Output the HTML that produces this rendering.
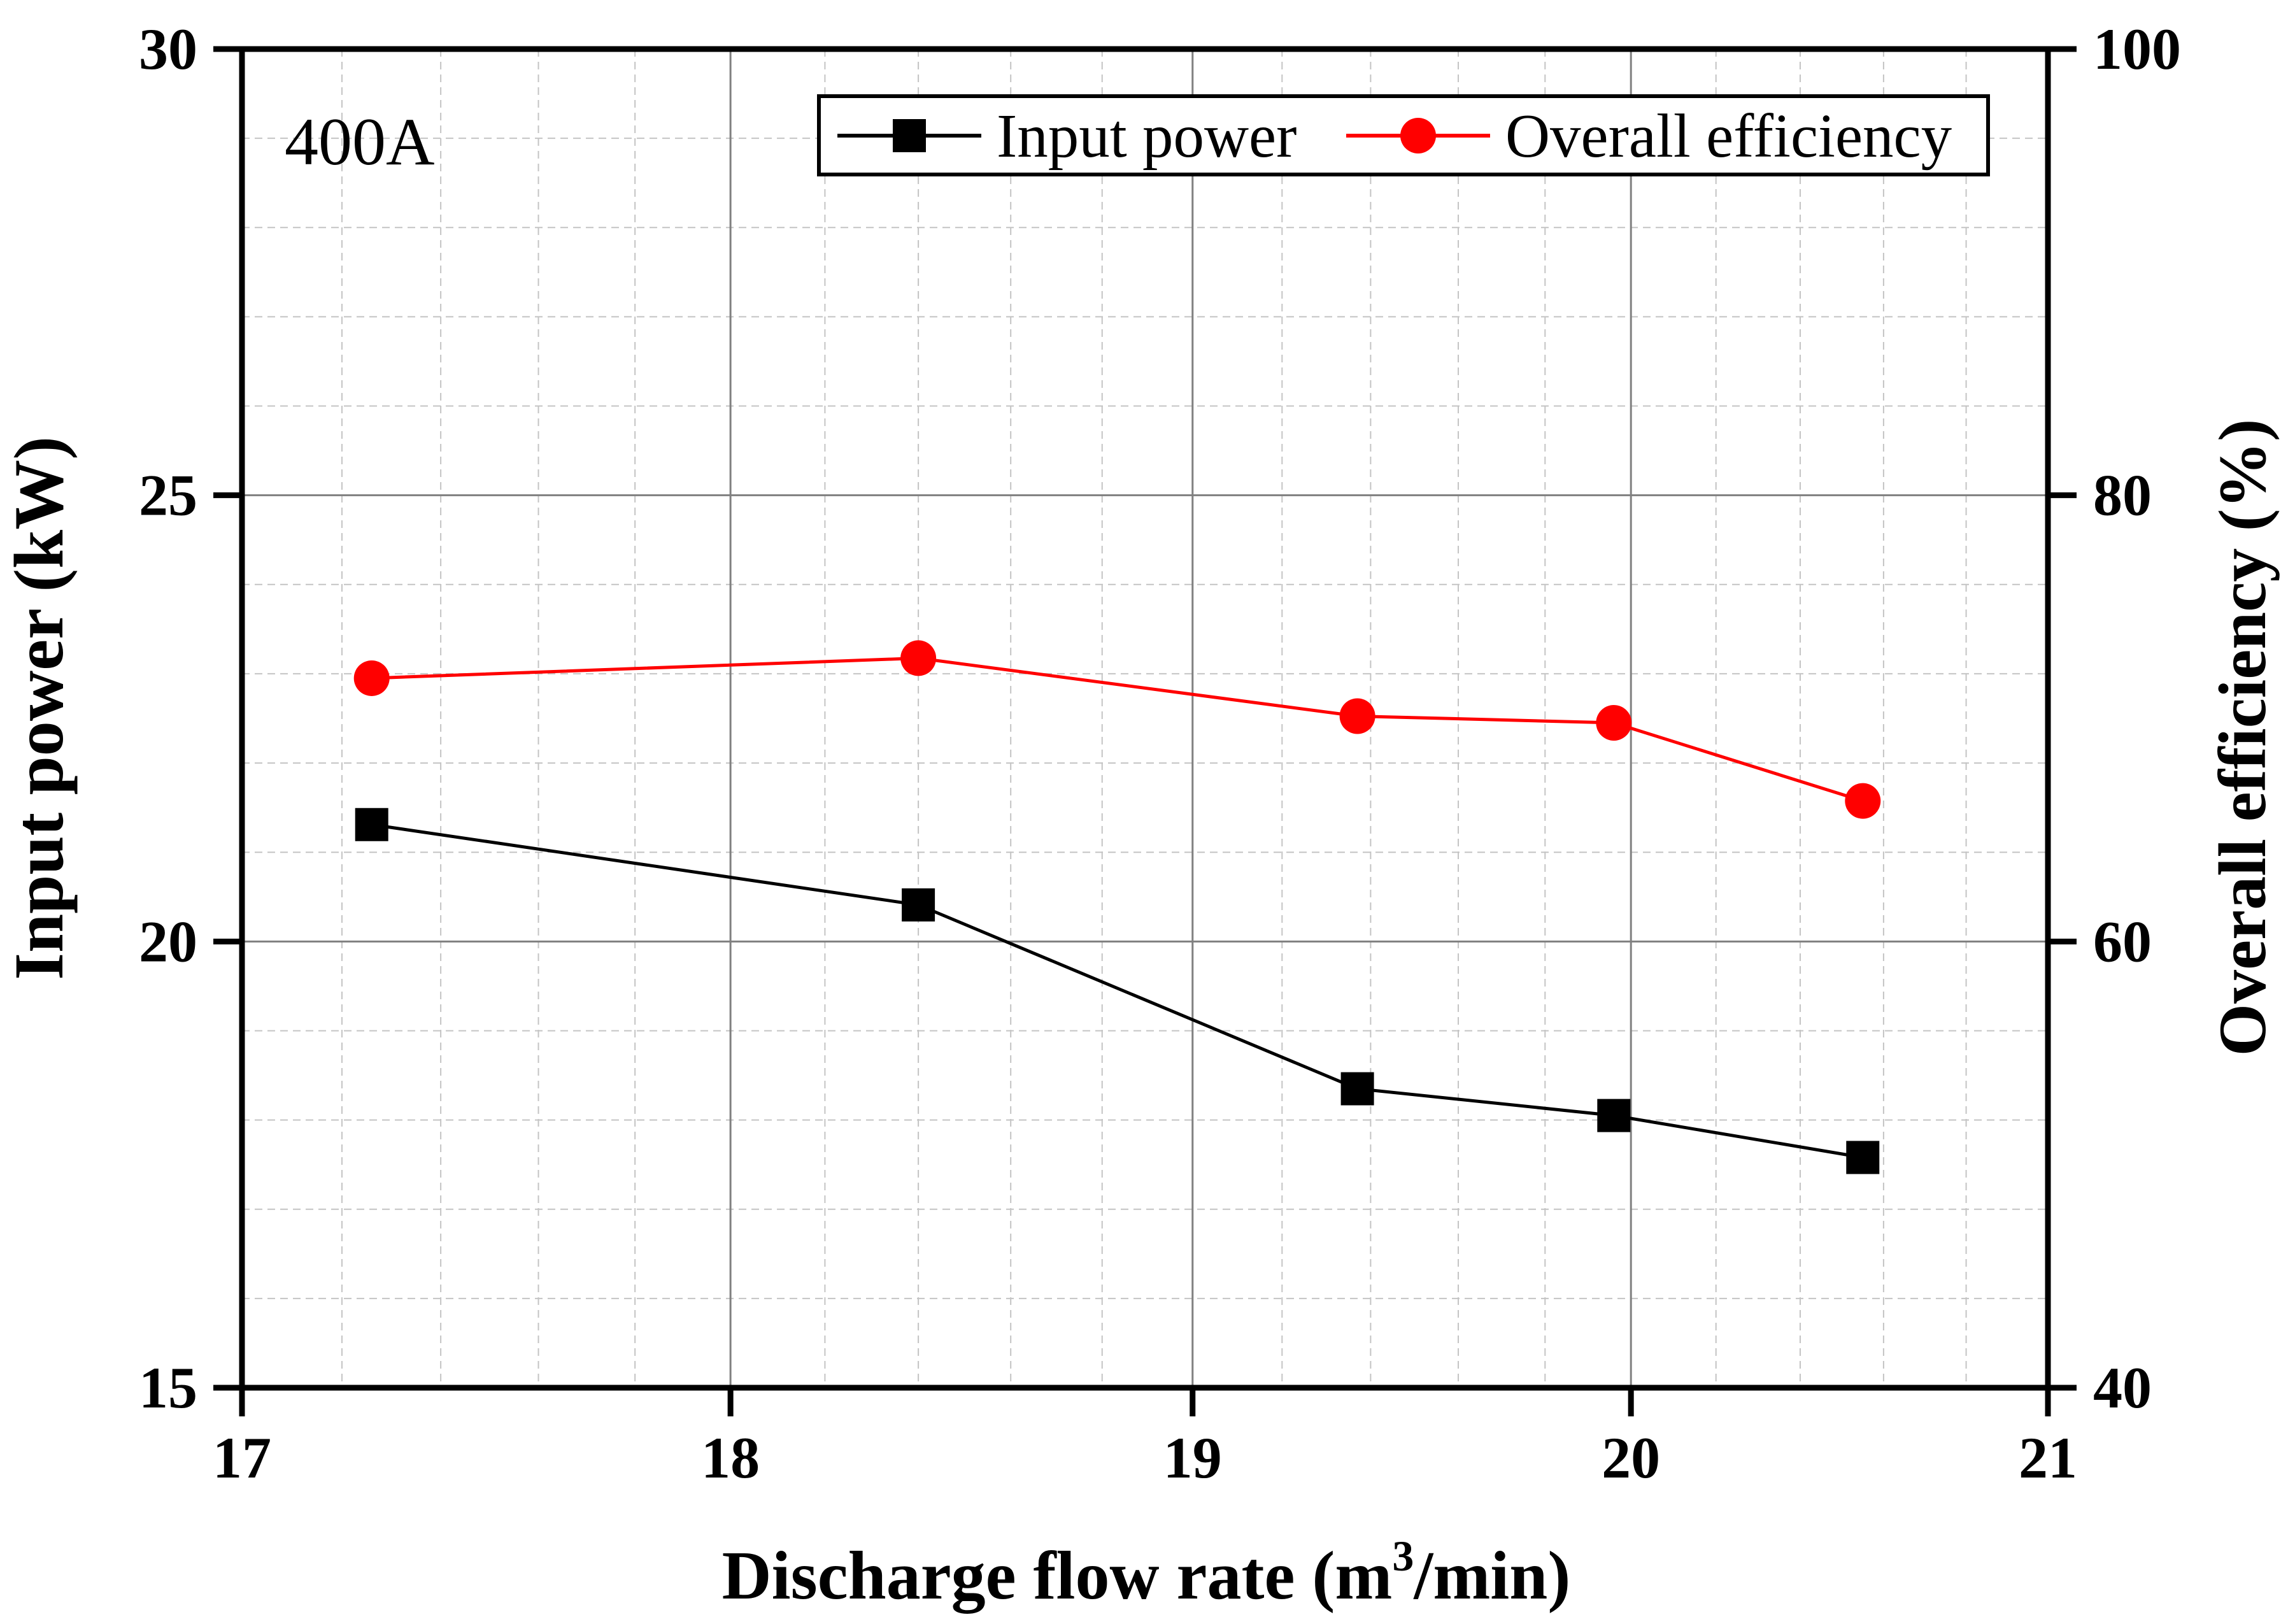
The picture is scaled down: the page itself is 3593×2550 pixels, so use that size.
<!DOCTYPE html>
<html><head><meta charset="utf-8"><style>html,body{margin:0;padding:0;background:#fff}svg{display:block}text{font-family:"Liberation Serif",serif}</style></head>
<body>
<svg id="chart" width="3593" height="2550" viewBox="0 0 3593 2550" xmlns="http://www.w3.org/2000/svg">
<g id="grid"></g>
<g id="series"></g>
<g id="axes"></g>
<text x="447" y="258" font-size="106">400A</text>
<g>
<rect x="1286" y="151" width="1836" height="123" fill="#fff" stroke="#000" stroke-width="6"/>
<line x1="1315" y1="213" x2="1541" y2="213" stroke="#000" stroke-width="6"/>
<rect x="1402" y="187" width="52" height="52" fill="#000"/>
<text x="1565" y="246" font-size="97">Input power</text>
<line x1="2114" y1="213" x2="2340" y2="213" stroke="#f00" stroke-width="6"/>
<circle cx="2227" cy="213" r="28" fill="#f00"/>
<text x="2364" y="246" font-size="97">Overall efficiency</text>
</g>
<text x="1800" y="2510" font-size="108" font-weight="bold" text-anchor="middle">Discharge flow rate (m<tspan font-size="68" dy="-44">3</tspan><tspan dy="44">/min)</tspan></text>
<text transform="translate(98,1112) rotate(-90)" font-size="110" font-weight="bold" text-anchor="middle">Input power (kW)</text>
<text transform="translate(3557,1158) rotate(-90)" font-size="106" font-weight="bold" text-anchor="middle">Overall efficiency (%)</text>
</svg>
<script>
const flowRates = [17.26, 18.40, 19.37, 19.96, 20.55];
const inputPower = [21.31, 20.41, 18.35, 18.05, 17.58];
const efficiency = [71.8, 72.7, 70.1, 69.8, 66.3];
const xTicks = [17, 18, 19, 20, 21];
const yLeftTicks = [15, 20, 25, 30];
const yRightTicks = [40, 60, 80, 100];

const L=380,R=3216,T=77,B=2179;
const NS="http://www.w3.org/2000/svg";
const xs=v=>L+(R-L)*Math.log(v/17)/Math.log(21/17);
const yl=v=>B-(B-T)*(v-15)/15;
const yr=v=>B-(B-T)*(v-40)/60;
function mk(tag,attrs,parent){const e=document.createElementNS(NS,tag);for(const k in attrs)e.setAttribute(k,attrs[k]);parent.appendChild(e);return e;}
const grid=document.getElementById('grid'),ser=document.getElementById('series'),ax=document.getElementById('axes');

for(let v=17.2;v<21-1e-6;v+=0.2){if(Math.abs(v-Math.round(v))<1e-6)continue;
 const l=mk('line',{x1:xs(v),x2:xs(v),y1:T,y2:B,stroke:'#c4c4c4','stroke-width':2,'stroke-dasharray':'12,8'},grid);
 
 }
for(let v=16;v<30;v++){if(v%5===0)continue;
 const l=mk('line',{x1:L,x2:R,y1:yl(v),y2:yl(v),stroke:'#c4c4c4','stroke-width':2,'stroke-dasharray':'12,8'},grid);
 
 }
xTicks.slice(1,-1).forEach(v=>{const l=mk('line',{x1:xs(v),x2:xs(v),y1:T,y2:B,stroke:'#808080','stroke-width':3},grid);
 
 });
yLeftTicks.slice(1,-1).forEach(v=>{const l=mk('line',{x1:L,x2:R,y1:yl(v),y2:yl(v),stroke:'#808080','stroke-width':3},grid);
 
 });

function series(vals,yf,color,name,square){
 const pts=flowRates.map((x,i)=>xs(x)+','+yf(vals[i])).join(' ');
 const pl=mk('polyline',{points:pts,fill:'none',stroke:color,'stroke-width':5},ser);
 
 
 flowRates.forEach((x,i)=>{let m;
  if(square)m=mk('rect',{x:xs(x)-26,y:yf(vals[i])-26,width:52,height:52,fill:color},ser);
  else m=mk('circle',{cx:xs(x),cy:yf(vals[i]),r:28,fill:color},ser);
  
  });
}
series(inputPower,yl,'#000','input-power',true);
series(efficiency,yr,'#f00','efficiency',false);

[[L,T,R,T],[L,B,R,B],[L,T,L,B],[R,T,R,B]].forEach(a=>{const l=mk('line',{x1:a[0],y1:a[1],x2:a[2],y2:a[3],stroke:'#000','stroke-width':9,'stroke-linecap':'square'},ax);
 
 });
xTicks.forEach(v=>{const l=mk('line',{x1:xs(v),x2:xs(v),y1:B,y2:B+45,stroke:'#000','stroke-width':9},ax);
 
 
 const t=mk('text',{x:xs(v),y:2320,'font-size':92,'font-weight':'bold','text-anchor':'middle'},ax);t.textContent=v;
 
 });
yLeftTicks.forEach(v=>{const l=mk('line',{x1:L-45,x2:L,y1:yl(v),y2:yl(v),stroke:'#000','stroke-width':9},ax);
 
 
 const t=mk('text',{x:310,y:yl(v)+31,'font-size':92,'font-weight':'bold','text-anchor':'end'},ax);t.textContent=v;
 
 });
yRightTicks.forEach(v=>{const l=mk('line',{x1:R,x2:R+45,y1:yr(v),y2:yr(v),stroke:'#000','stroke-width':9},ax);
 
 
 const t=mk('text',{x:3287,y:yr(v)+31,'font-size':92,'font-weight':'bold'},ax);t.textContent=v;
 
 });
</script>
</body></html>
